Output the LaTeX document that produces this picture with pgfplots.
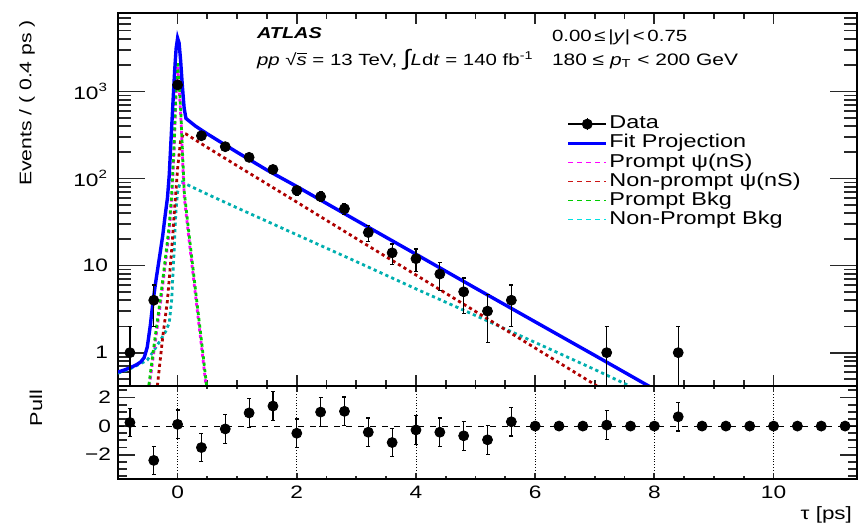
\documentclass[border=0pt]{standalone}
\usepackage{fontspec}
\setmainfont{Liberation Sans}[FakeStretch=1.26]
\usepackage{pgfplots}
\pgfplotsset{compat=1.18}

\definecolor{fitblue}{RGB}{0,0,255}
\definecolor{pmag}{RGB}{255,0,255}
\definecolor{npred}{RGB}{175,0,0}
\definecolor{npredlight}{RGB}{205,20,20}
\definecolor{pbgreen}{RGB}{0,205,0}
\definecolor{npcyan}{RGB}{0,175,175}
\definecolor{npcyanlight}{RGB}{0,225,225}
\definecolor{tickgray}{RGB}{40,40,40}

% binned data: tau [ps], events, +err, -err
\pgfplotstableread{
x y ep em
-0.8 1 1 0.99
-0.4 4 2 2
0.0 1190 34.5 34.5
0.4 310 17.6 17.6
0.8 232 15.2 15.2
1.2 175 13.2 13.2
1.6 127 11.3 11.3
2.0 73 8.5 8.5
2.4 62 7.9 7.9
2.8 45 6.7 6.7
3.2 24 4.9 4.9
3.6 14 3.7 3.7
4.0 12 3.5 3.5
4.4 8 2.8 2.8
4.8 5 2.2 2.2
5.2 3 1.7 1.7
5.6 4 2 2
7.2 1 1 0.99
8.4 1 1 0.99
}\datatab

% pulls per bin
\pgfplotstableread{
x y e
-0.8 0.25 1
-0.4 -2.4 1
0.0 0.12 1
0.4 -1.5 1
0.8 -0.2 1
1.2 0.92 1
1.6 1.4 1
2.0 -0.5 1
2.4 0.98 1
2.8 1.03 1
3.2 -0.43 1
3.6 -1.15 1
4.0 -0.27 1
4.4 -0.43 1
4.8 -0.68 1
5.2 -0.96 1
5.6 0.3 1
6.0 0 0
6.4 0 0
6.8 0 0
7.2 0.07 1
7.6 0 0
8.0 0 0
8.4 0.65 1
8.8 0 0
9.2 0 0
9.6 0 0
10.0 0 0
10.4 0 0
10.8 0 0
11.2 0 0
}\pulltab

\pgfplotsset{
  frame/.style={
    scale only axis, width=369.5pt,
    xmin=-1, xmax=11.4,
    tick align=inside,
    every tick/.append style={tickgray, line width=0.9pt},
    axis line style={line width=0.8pt},
    ticklabel style={font=\fontsize{9}{10}\selectfont},
  },
}

\begin{document}
\begin{tikzpicture}
\useasboundingbox (0,0) rectangle (433pt,263.5pt);

% ---- upper panel: x ticks ----
\begin{axis}[frame,
  at={(59pt,70.5pt)}, anchor=south west, height=186.5pt,
  ymin=0, ymax=1, ytick=\empty,
  xtick={0,2,4,6,8,10}, xticklabels={}, minor x tick num=3,
  major tick length=5.5pt, minor tick length=3pt,
]
\end{axis}

% ---- upper panel: fit projection and data ----
\begin{axis}[frame,
  at={(59pt,70.5pt)}, anchor=south west, height=186.5pt,
  ymode=log, ymin=0.414, ymax=7960,
  xtick=\empty,
  ytick={1,10,100,1000},
  yticklabels={1,10,10\textsuperscript{2},10\textsuperscript{3}},
  minor ytick={0.5,0.6,0.7,0.8,0.9,2,3,4,5,6,7,8,9,20,30,40,50,60,70,80,90,200,300,400,500,600,700,800,900,2000,3000,4000,5000,6000,7000},
  major tick length=13.5pt, minor tick length=6.5pt,
  yticklabel style={xshift=-1.5pt},
  legend style={at={(axis description cs:0.607,0.726)}, anchor=north west,
    draw=none, fill=none, font=\fontsize{9.3}{9}\selectfont,
    nodes={text height=6.6pt, text depth=1.9pt, inner ysep=0pt, inner xsep=0.9pt},
    row sep=1.05pt, inner sep=0pt},
  legend cell align=left,
  legend image code/.code={\draw[#1] (0pt,0pt) -- (19pt,0pt);},
]
\addlegendimage{legend image code/.code={
    \draw[black, line width=0.9pt] (0pt,0pt) -- (19pt,0pt);
    \draw[black, line width=0.6pt] (9.5pt,-3pt) -- (9.5pt,3pt);
    \fill[black] (9.5pt,0pt) circle (2.5pt);}}
\addlegendentry{Data}
\addlegendimage{fitblue, line width=1.3pt}
\addlegendentry{Fit Projection}
\addlegendimage{pmag, line width=0.8pt, dash pattern=on 2.5pt off 2pt}
\addlegendentry{Prompt ψ(nS)}
\addlegendimage{npredlight, line width=0.8pt, dash pattern=on 2.5pt off 2pt}
\addlegendentry{Non-prompt ψ(nS)}
\addlegendimage{pbgreen, line width=0.8pt, dash pattern=on 2.5pt off 2pt}
\addlegendentry{Prompt Bkg}
\addlegendimage{npcyanlight, line width=0.8pt, dash pattern=on 2.5pt off 2pt}
\addlegendentry{Non-Prompt Bkg}

% non-prompt background
\addplot[forget plot, npcyan, line width=1.4pt, dash pattern=on 1.6pt off 1.6pt] coordinates {
(-1.0,0.58) (-0.8,0.65) (-0.62,0.75) (-0.51,0.82) (-0.4,1.05) (-0.3,1.35)
(-0.2,1.75) (-0.14,2.2) (-0.1,4) (-0.06,14) (-0.03,40) (0.0,70) (0.04,88)
(0.07,91) (0.5,66) (1.0,46) (2.0,22.6) (3.0,11.1) (4.0,5.4) (5.0,2.67)
(6.0,1.31) (7.0,0.64) (7.6,0.41) (8.0,0.31)};
% non-prompt psi(nS)
\addplot[forget plot, npred, line width=1.4pt, dash pattern=on 1.6pt off 1.6pt] coordinates {
(-0.37,0.25) (-0.34,0.41) (-0.25,1.5) (-0.17,4.0) (-0.10,15) (-0.05,45)
(0.0,130) (0.05,270) (0.1,330) (0.14,325) (0.5,227) (1.0,140) (2.0,53.6)
(3.0,20.4) (4.0,7.8) (5.0,2.97) (6.0,1.13) (7.0,0.43) (7.3,0.31)};
% prompt psi(nS)
\addplot[forget plot, pmag, line width=1.4pt, dash pattern=on 1.6pt off 1.6pt] coordinates {
(-0.55,0.18) (-0.475,0.41) (-0.40,1.0) (-0.28,4.0) (-0.20,11.2) (-0.14,25)
(-0.10,56) (-0.06,200) (-0.03,790) (0.0,1900) (0.03,1000) (0.06,420)
(0.09,130) (0.113,60) (0.2,17.8) (0.31,4.0) (0.40,1.2) (0.478,0.41) (0.55,0.15)};
% prompt background
\addplot[forget plot, pbgreen, line width=1.4pt, dash pattern=on 1.6pt off 1.6pt, dash phase=1.6pt] coordinates {
(-0.55,0.2) (-0.475,0.46) (-0.40,1.15) (-0.28,4.6) (-0.20,12.9) (-0.14,29)
(-0.10,64) (-0.06,230) (-0.03,910) (0.0,2200) (0.03,1150) (0.06,480)
(0.09,150) (0.113,69) (0.2,20.5) (0.31,4.6) (0.40,1.38) (0.478,0.47) (0.55,0.17)};
% total fit
\addplot[forget plot, fitblue, line width=1.7pt] coordinates {
(-1.0,0.60) (-0.9,0.63) (-0.8,0.67) (-0.7,0.72) (-0.62,0.78) (-0.56,0.88)
(-0.51,1.15) (-0.46,2.0) (-0.41,4.0) (-0.36,7.0) (-0.30,13) (-0.25,22)
(-0.21,37) (-0.17,60) (-0.14,110) (-0.11,280) (-0.08,700) (-0.05,1700)
(-0.025,3100) (0.0,4100) (0.025,3600) (0.05,2300) (0.08,1150) (0.11,640)
(0.14,490) (0.3,400) (0.5,325) (1.0,200) (1.5,125) (2.0,81) (3.0,33)
(4.0,13.5) (5.0,5.5) (6.0,2.26) (7.0,0.93) (8.0,0.38) (8.4,0.27)};
% data
\addplot[forget plot, black, only marks, mark=*, mark size=2.5pt,
  error bars/.cd, y dir=both, y explicit,
  error bar style={line width=0.6pt},
  error mark options={rotate=90, mark size=1pt, line width=0.6pt}]
  table[x=x, y=y, y error plus=ep, y error minus=em] {\datatab};
\end{axis}

% ---- pull panel: x ticks and grid ----
\begin{axis}[frame,
  at={(59pt,24pt)}, anchor=south west, height=46.5pt,
  ymin=-3.7, ymax=2.8, ytick=\empty,
  xtick={0,2,4,6,8,10}, xticklabels={0,2,4,6,8,10}, minor x tick num=3,
  major tick length=3pt, minor tick length=1.5pt,
  xmajorgrids, grid style={black, line width=0.4pt, densely dotted},
]
\end{axis}

% ---- pull panel: pulls ----
\begin{axis}[frame,
  at={(59pt,24pt)}, anchor=south west, height=46.5pt,
  ymin=-3.7, ymax=2.8,
  xtick=\empty,
  ytick={-2,0,2}, yticklabels={−2,0,2},
  minor ytick={-3.5,-3,-2.5,-1.5,-1,-0.5,0.5,1,1.5,2.5},
  major tick length=8.5pt, minor tick length=4.5pt,
]
\addplot[black, line width=0.5pt, dashed] coordinates {(-1,0) (11.4,0)};
\addplot[black, only marks, mark=*, mark size=2.5pt,
  error bars/.cd, y dir=both, y explicit,
  error bar style={line width=0.6pt},
  error mark options={rotate=90, mark size=1pt, line width=0.6pt}]
  table[x=x, y=y, y error=e] {\pulltab};
\end{axis}

% titles and labels
\node[rotate=90, anchor=east, font=\fontsize{8.4}{10}\selectfont] at (13.5pt,257pt) {Events / ( 0.4 ps )};
\node[rotate=90, anchor=east, font=\fontsize{8.6}{10}\selectfont] at (18pt,72pt) {Pull};
\node[anchor=east, font=\fontsize{8.9}{10}\selectfont] at (429.5pt,6pt) {τ [ps]};

\node[anchor=base west, font=\fontsize{7.9}{9}\selectfont\bfseries\itshape, inner sep=0pt] at (128.3pt,244.3pt) {ATLAS};
\node[anchor=base west, font=\fontsize{8.1}{9}\selectfont, inner sep=0pt] at (128.3pt,231pt)
  {\textit{pp} √$\overline{\hbox{\textit{s}}}$ = 13 TeV, {\fontsize{11}{11}\selectfont ∫}\textit{L}d\textit{t} = 140 fb\textsuperscript{-1}};
\node[anchor=base west, font=\fontsize{8.1}{9}\selectfont, inner sep=0pt] at (275.8pt,242.7pt)
  {0.00\,≤\,|\textit{y}|\,<\,0.75};
\node[anchor=base west, font=\fontsize{8.3}{9}\selectfont, inner sep=0pt] at (275.8pt,231pt)
  {180 ≤ \textit{p}\textsubscript{T} < 200 GeV};
\end{tikzpicture}
\end{document}
